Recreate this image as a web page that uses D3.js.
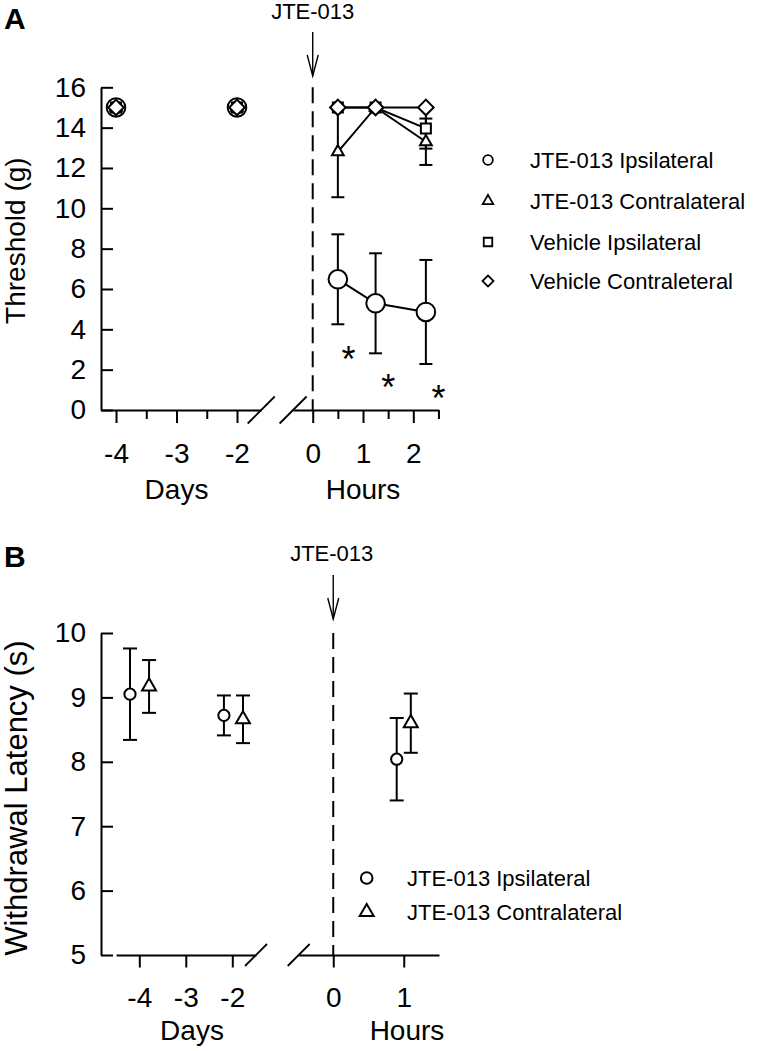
<!DOCTYPE html>
<html><head><meta charset="utf-8">
<script src="https://cdn.jsdelivr.net/npm/d3@7"></script>
<style>
body{margin:0;background:#fff}
svg{display:block;background:#fff}
text{font-family:"Liberation Sans",Arial,Helvetica,sans-serif;fill:#000}
</style>
</head><body>
<svg id="chart" width="763" height="1051"></svg>
<script>
// ---------- Panel A data ----------
const aYTicks = [0, 2, 4, 6, 8, 10, 12, 14, 16];
const aDayTicks = [-4, -3, -2];
const aDayMinor = [-3.5, -2.5];
const aHourTicks = [0, 1, 2];
const aHourMinor = [0.5, 1.5, 2.5];
const aDays = [-4, -2];
const aHours = [0.5, 1.25, 2.25];
const aLabels = ["JTE-013 Ipsilateral", "JTE-013 Contralateral", "Vehicle Ipsilateral", "Vehicle Contraleteral"];
const aJteIpsiDays = [15, 15];
const aJteIpsiHours = [6.48, 5.29, 4.86];
const aJteIpsiErr = [2.23, 2.48, 2.58];
const aJteContraDays = [15, 15];
const aJteContraHours = [12.8, 15, 13.3];
const aJteContraErr = [2.25, 0, 1.15];
const aVehIpsiDays = [15, 15];
const aVehIpsiHours = [15, 15, 13.96];
const aVehIpsiErr = [0, 0, 1.0];
const aVehContraDays = [15, 15];
const aVehContraHours = [15, 15, 15];
const aVehContraErr = [0, 0, 0];
const aStarHours = [0.71, 1.5, 2.5];
const aStarValues = [2.9, 1.5, 0.96];

// ---------- Panel B data ----------
const bYTicks = [5, 6, 7, 8, 9, 10];
const bDayTicks = [-4, -3, -2];
const bHourTicks = [0, 1];
const bLabels = ["JTE-013 Ipsilateral", "JTE-013 Contralateral"];
const bIpsiDayX = [-4.2, -2.18];
const bIpsiDayV = [9.05, 8.72];
const bIpsiDayErr = [0.71, 0.31];
const bIpsiHourX = [0.9];
const bIpsiHourV = [8.04];
const bIpsiHourErr = [0.64];
const bContraDayX = [-3.79, -1.77];
const bContraDayV = [9.17, 8.66];
const bContraDayErr = [0.41, 0.37];
const bContraHourX = [1.1];
const bContraHourV = [8.6];
const bContraHourErr = [0.46];

const svg = d3.select("#chart");
const FONT = '"Liberation Sans",Arial,Helvetica,sans-serif';
const fmt = d => String(d);

function styleAxis(g, fs) {
  g.attr("font-family", FONT).attr("font-size", fs);
  g.selectAll("path,line").attr("stroke", "#000").attr("stroke-width", 2);
  g.selectAll("text").attr("fill", "#000");
}

function sym(type, size) { return d3.symbol().type(type).size(size)(); }
function markerPath(kind, s) {
  if (kind === "circle") return sym(d3.symbolCircle, Math.PI * s.r * s.r);
  if (kind === "triangle") return sym(d3.symbolTriangle, s.tri);
  if (kind === "square") return sym(d3.symbolSquare, s.sq * s.sq);
  if (kind === "diamond") return sym(d3.symbolSquare, s.dia * s.dia);
}
function drawMarker(g, kind, x, y, s, sw) {
  g.append("path")
    .attr("d", markerPath(kind, s))
    .attr("transform", `translate(${x},${y})` + (kind === "diamond" ? " rotate(45)" : ""))
    .attr("fill", "#fff").attr("stroke", "#000").attr("stroke-width", sw);
}
function drawErr(g, x, yTop, yBot, hw) {
  g.append("line").attr("x1", x).attr("x2", x).attr("y1", yTop).attr("y2", yBot)
    .attr("stroke", "#000").attr("stroke-width", 2);
  [yTop, yBot].forEach(yy => g.append("line").attr("x1", x - hw).attr("x2", x + hw)
    .attr("y1", yy).attr("y2", yy).attr("stroke", "#000").attr("stroke-width", 2));
}
function slash(g, cx, cy, h) {
  g.append("line").attr("x1", cx - h).attr("y1", cy + h).attr("x2", cx + h).attr("y2", cy - h)
    .attr("stroke", "#000").attr("stroke-width", 1.8);
}
function arrow(g, x, y1, y2) {
  g.append("line").attr("x1", x).attr("x2", x).attr("y1", y1).attr("y2", y2)
    .attr("stroke", "#000").attr("stroke-width", 1.4);
  g.append("path").attr("d", `M${x - 5.5},${y2 - 21}L${x},${y2}L${x + 5.5},${y2 - 21}`)
    .attr("fill", "none").attr("stroke", "#000").attr("stroke-width", 1.4);
}

// =================== PANEL A ===================
const gA = svg.append("g");
const yA = d3.scaleLinear().domain([0, 16]).range([410, 87.3]);
const xDA = d3.scaleLinear().domain([-4.25, -1.6]).range([100.9, 261.2]);
const xHA = d3.scaleLinear().domain([-0.39, 2.5]).range([293.1, 438.45]);
const y0A = yA(0);

gA.append("g").attr("transform", "translate(101,0)")
  .call(d3.axisLeft(yA).tickValues(aYTicks).tickFormat(fmt).tickSize(-12).tickSizeOuter(0).tickPadding(15))
  .call(g => styleAxis(g, 28));

[[xDA, aDayTicks, aDayMinor], [xHA, aHourTicks, aHourMinor]].forEach(([sc, maj, mn]) => {
  gA.append("g").attr("transform", `translate(0,${y0A})`)
    .call(d3.axisBottom(sc).tickValues(maj).tickFormat(fmt).tickSize(13).tickSizeOuter(0).tickPadding(20))
    .call(g => styleAxis(g, 28));
  gA.append("g").attr("transform", `translate(0,${y0A})`)
    .call(d3.axisBottom(sc).tickValues(mn).tickSize(9).tickFormat(""))
    .call(g => { styleAxis(g, 28); g.select(".domain").remove(); });
});
slash(gA, xDA.range()[1], y0A, 13.5);
slash(gA, xHA.range()[0], y0A, 13.5);

gA.append("line").attr("x1", xHA(0)).attr("x2", xHA(0)).attr("y1", yA(16)).attr("y2", y0A)
  .attr("stroke", "#000").attr("stroke-width", 2).attr("stroke-dasharray", "16,8");
arrow(gA, xHA(0), 32, 76);
gA.append("text").attr("x", xHA(0)).attr("y", 19).attr("text-anchor", "middle")
  .attr("font-size", 22).text("JTE-013");

const sizeA = { r: 9.3, tri: 60, sq: 10, dia: 11 };
const aSeries = [
  { kind: "circle", days: aJteIpsiDays, hours: aJteIpsiHours, err: aJteIpsiErr },
  { kind: "triangle", days: aJteContraDays, hours: aJteContraHours, err: aJteContraErr },
  { kind: "square", days: aVehIpsiDays, hours: aVehIpsiHours, err: aVehIpsiErr },
  { kind: "diamond", days: aVehContraDays, hours: aVehContraHours, err: aVehContraErr }
];
const lineA = d3.line().x(d => xHA(d[0])).y(d => yA(d[1]));
aSeries.forEach(s => {
  gA.append("path").attr("d", lineA(aHours.map((h, i) => [h, s.hours[i]])))
    .attr("fill", "none").attr("stroke", "#000").attr("stroke-width", 2);
});
aSeries.forEach(s => {
  aHours.forEach((h, i) => {
    if (s.err[i] > 0) drawErr(gA, xHA(h), yA(s.hours[i] + s.err[i]), yA(s.hours[i] - s.err[i]), 6.5);
  });
});
aSeries.forEach(s => {
  aDays.forEach((d, i) => drawMarker(gA, s.kind, xDA(d), yA(s.days[i]), sizeA, 2));
  aHours.forEach((h, i) => drawMarker(gA, s.kind, xHA(h), yA(s.hours[i]), sizeA, 2));
});

aStarHours.forEach((h, i) => {
  gA.append("text").attr("x", xHA(h)).attr("y", yA(aStarValues[i]) + 20)
    .attr("text-anchor", "middle").attr("font-size", 36).text("*");
});

const legA = { r: 4.8, tri: 48, sq: 8.5, dia: 7.8 };
const legARows = [160, 201, 242, 281];
aSeries.forEach((s, i) => {
  drawMarker(gA, s.kind, 488, legARows[i], legA, 1.8);
  gA.append("text").attr("x", 530).attr("y", legARows[i]).attr("dy", "0.35em")
    .attr("font-size", 22).text(aLabels[i]);
});

gA.append("text").attr("x", 4).attr("y", 29).attr("font-size", 30).attr("font-weight", "bold").text("A");
gA.append("text").attr("transform", `translate(25,${(yA(0) + yA(16)) / 2 - 8}) rotate(-90)`)
  .attr("text-anchor", "middle").attr("font-size", 28).text("Threshold (g)");
gA.append("text").attr("x", xDA(-3)).attr("y", 499).attr("text-anchor", "middle").attr("font-size", 28).text("Days");
gA.append("text").attr("x", xHA(1)).attr("y", 499).attr("text-anchor", "middle").attr("font-size", 28).text("Hours");

// =================== PANEL B ===================
const gB = svg.append("g");
const yB = d3.scaleLinear().domain([5, 10]).range([955, 633]);
const xDB = d3.scaleLinear().domain([-4.5, -1.49]).range([116.05, 256]);
const xHB = d3.scaleLinear().domain([-0.49, 1.5]).range([298.7, 439]);
const y0B = yB(5);

gB.append("g").attr("transform", "translate(101,0)")
  .call(d3.axisLeft(yB).tickValues(bYTicks).tickFormat(fmt).tickSize(-12).tickSizeOuter(0).tickPadding(15))
  .call(g => styleAxis(g, 28));
[[xDB, bDayTicks], [xHB, bHourTicks]].forEach(([sc, maj]) => {
  gB.append("g").attr("transform", `translate(0,${y0B})`)
    .call(d3.axisBottom(sc).tickValues(maj).tickFormat(fmt).tickSize(12.5).tickSizeOuter(0).tickPadding(20))
    .call(g => styleAxis(g, 28));
});
slash(gB, xDB.range()[1], y0B, 11);
slash(gB, xHB.range()[0], y0B, 11);

gB.append("line").attr("x1", xHB(0)).attr("x2", xHB(0)).attr("y1", yB(10)).attr("y2", y0B)
  .attr("stroke", "#000").attr("stroke-width", 2).attr("stroke-dasharray", "16,8");
arrow(gB, xHB(0), 575, 619);
gB.append("text").attr("x", xHB(0) - 1.5).attr("y", 561).attr("text-anchor", "middle")
  .attr("font-size", 22).text("JTE-013");

const sizeB = { r: 5.6, tri: 85, sq: 9, dia: 9 };
const bSeries = [
  { kind: "circle", pts: [[xDB, bIpsiDayX, bIpsiDayV, bIpsiDayErr], [xHB, bIpsiHourX, bIpsiHourV, bIpsiHourErr]] },
  { kind: "triangle", pts: [[xDB, bContraDayX, bContraDayV, bContraDayErr], [xHB, bContraHourX, bContraHourV, bContraHourErr]] }
];
bSeries.forEach(s => s.pts.forEach(([sc, xs, vs, es]) => xs.forEach((x, i) =>
  drawErr(gB, sc(x), yB(vs[i] + es[i]), yB(vs[i] - es[i]), 7))));
bSeries.forEach(s => s.pts.forEach(([sc, xs, vs]) => xs.forEach((x, i) =>
  drawMarker(gB, s.kind, sc(x), yB(vs[i]), sizeB, 2))));

const legB = { r: 5.8, tri: 85 };
const legBRows = [878, 912];
bSeries.forEach((s, i) => {
  drawMarker(gB, s.kind, 366.7, legBRows[i], legB, 2);
  gB.append("text").attr("x", 407).attr("y", legBRows[i]).attr("dy", "0.35em")
    .attr("font-size", 22).text(bLabels[i]);
});

gB.append("text").attr("x", 4).attr("y", 567).attr("font-size", 30).attr("font-weight", "bold").text("B");
gB.append("text").attr("transform", `translate(27,798) rotate(-90)`)
  .attr("text-anchor", "middle").attr("font-size", 31).text("Withdrawal Latency (s)");
gB.append("text").attr("x", 192).attr("y", 1040).attr("text-anchor", "middle").attr("font-size", 28).text("Days");
gB.append("text").attr("x", 407).attr("y", 1040).attr("text-anchor", "middle").attr("font-size", 28).text("Hours");
</script>
</body></html>
